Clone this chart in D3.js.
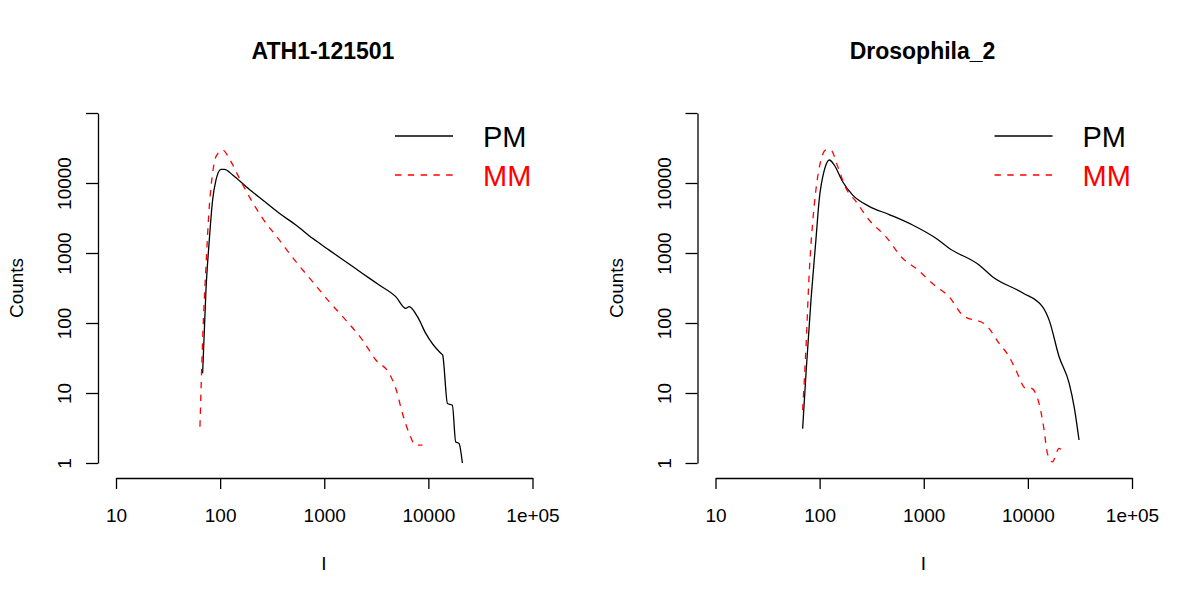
<!DOCTYPE html>
<html>
<head>
<meta charset="utf-8">
<script src="https://cdn.jsdelivr.net/npm/d3@7"></script>
<style>
  html, body { margin: 0; padding: 0; background: #fff; }
  svg { display: block; font-family: "Liberation Sans", Arial, Helvetica, sans-serif; }
</style>
</head>
<body>
<svg id="chart" width="1200" height="600"></svg>
<script>
// ---- Data ----
const panelTitles = ["ATH1-121501", "Drosophila_2"];
const xTicks = [10, 100, 1000, 10000, 100000];
const xTickLabels = ["10", "100", "1000", "10000", "1e+05"];
const yTicks = [1, 10, 100, 1000, 10000, 100000];
const yTickLabels = ["1", "10", "100", "1000", "10000", ""];
const seriesNames = ["PM", "MM"];
const seriesColors = ["#000000", "#ff0000"];

// ATH1-121501
const athPM_I = [67.9, 73.1, 78.7, 84.7, 91.2, 102, 110, 132, 177, 256, 370, 534, 772, 1115, 1610, 2330, 3370, 4860, 6070, 6530, 7860, 9440, 13150, 13700, 15250, 17000, 18300, 19700, 21200];
const athPM_C = [19.1, 296, 1535, 5710, 11000, 15700, 15700, 13000, 8900, 5710, 3690, 2510, 1620, 1100, 751, 510, 349, 238, 162, 171, 123, 71, 37, 35, 7.1, 6.7, 2.0, 1.9, 1.0];
const athMM_I = [64, 67.9, 73.1, 78.7, 84.7, 91.2, 106, 122, 153, 191, 256, 370, 534, 772, 1115, 1610, 2330, 3130, 4200, 4860, 5640, 6530, 7570, 8770];
const athMM_C = [3.3, 57, 638, 4600, 13800, 23800, 29600, 22500, 11700, 6330, 3130, 1535, 751, 390, 202, 110, 57, 29.6, 19.1, 11.7, 5.1, 2.66, 1.8, 1.8];

// Drosophila_2
const droPM_I = [68.7, 74, 82.6, 92.1, 99, 111, 124, 138, 166, 208, 299, 466, 781, 1310, 1750, 3400, 4570, 8870, 13800, 16000, 19950, 24900, 27800, 31000];
const droPM_C = [3.1, 19.1, 213, 1535, 5710, 15300, 21300, 18100, 10500, 6700, 4640, 3540, 2510, 1620, 1170, 675, 459, 270, 171, 110, 33, 13.8, 6.4, 2.13];
const droMM_I = [68.7, 74, 79.4, 85.7, 92.1, 103, 115, 128, 149, 179, 223, 299, 432, 626, 840, 1310, 1750, 2360, 3950, 5300, 6610, 7660, 9550, 10700, 12800, 14300, 15400, 17200, 19950, 22200];
const droMM_C = [5.7, 46, 510, 2700, 7940, 21300, 29600, 29600, 17300, 8400, 5450, 2960, 1710, 840, 604, 333, 238, 130, 94, 51, 33, 21.3, 11.7, 11.7, 7.1, 3.0, 1.37, 1.04, 1.62, 1.3];

const panels = [
  { title: panelTitles[0], series: [[athPM_I, athPM_C], [athMM_I, athMM_C]] },
  { title: panelTitles[1], series: [[droPM_I, droPM_C], [droMM_I, droMM_C]] }
];

// ---- Drawing ----
const svg = d3.select("#chart");
const lw = 1.3;
const dashes = [null, "6.4,6.4"];

panels.forEach((p, i) => {
  const off = i * 599.5;
  const g = svg.append("g").attr("transform", `translate(${off},0)`);

  const x = d3.scaleLog().domain([10, 100000]).range([116, 532.5]);
  const y = d3.scaleLog().domain([1, 100000]).range([463, 113]);

  // title
  g.append("text")
    .attr("x", 323).attr("y", 59)
    .attr("text-anchor", "middle")
    .attr("font-size", 23).attr("font-weight", "bold")
    .text(p.title);

  // x axis
  const xa = g.append("g").attr("transform", "translate(0,478)")
    .call(d3.axisBottom(x).tickValues(xTicks)
      .tickFormat((d, k) => xTickLabels[k])
      .tickSize(11).tickSizeOuter(0).tickPadding(20));
  xa.select(".domain").attr("stroke-width", lw);
  xa.selectAll(".tick line").attr("stroke-width", lw);
  xa.selectAll(".tick text").attr("font-size", 19).attr("fill", "#000")
    .attr("font-family", "Liberation Sans, Arial, sans-serif");

  // y axis
  const ya = g.append("g").attr("transform", "translate(98,0)")
    .call(d3.axisLeft(y).tickValues(yTicks)
      .tickFormat((d, k) => yTickLabels[k])
      .tickSize(12).tickSizeOuter(0));
  ya.select(".domain").attr("stroke-width", lw);
  ya.selectAll(".tick line").attr("stroke-width", lw);
  ya.selectAll(".tick text")
    .attr("font-size", 19).attr("fill", "#000")
    .attr("font-family", "Liberation Sans, Arial, sans-serif")
    .attr("transform", "rotate(-90)")
    .attr("x", 0).attr("y", -27).attr("dy", 0)
    .attr("text-anchor", "middle");

  // axis titles
  g.append("text")
    .attr("transform", "translate(23,288) rotate(-90)")
    .attr("text-anchor", "middle").attr("font-size", 19)
    .text("Counts");
  g.append("text")
    .attr("x", 324).attr("y", 570)
    .attr("text-anchor", "middle").attr("font-size", 19)
    .text("I");

  // lines
  const line = d3.line().x(d => x(d[0])).y(d => y(d[1])).curve(d3.curveMonotoneX);
  p.series.forEach((s, k) => {
    const pts = s[0].map((v, j) => [v, s[1][j]]);
    g.append("path")
      .datum(pts)
      .attr("d", line)
      .attr("fill", "none")
      .attr("stroke", seriesColors[k])
      .attr("stroke-width", lw)
      .attr("stroke-dasharray", dashes[k]);
  });

  // legend
  seriesNames.forEach((name, k) => {
    const ly = 136 + k * 39;
    g.append("line")
      .attr("x1", 395).attr("x2", 453).attr("y1", ly).attr("y2", ly)
      .attr("stroke", seriesColors[k]).attr("stroke-width", lw)
      .attr("stroke-dasharray", dashes[k]);
    g.append("text")
      .attr("x", 483).attr("y", ly + 10.5)
      .attr("font-size", 29).attr("fill", seriesColors[k])
      .text(name);
  });
});
</script>
</body>
</html>
